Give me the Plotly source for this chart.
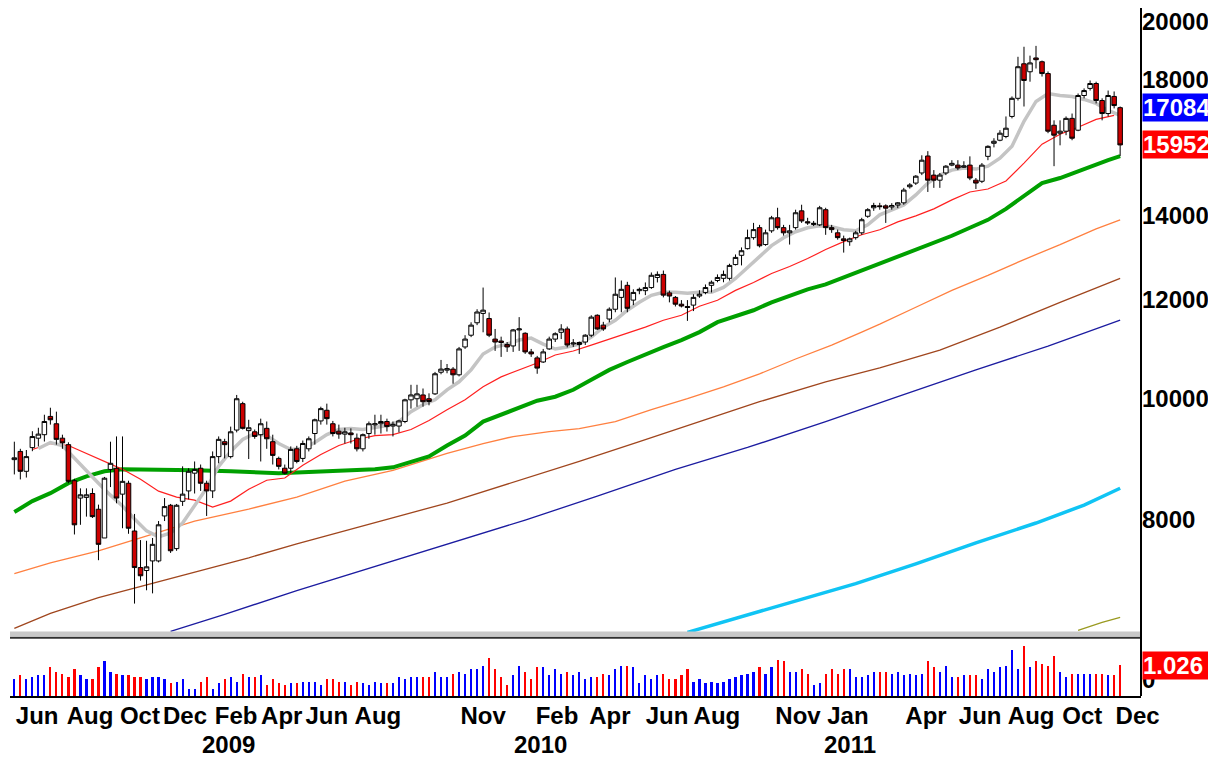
import math
import plotly.graph_objects as go

# weekly bars, oldest first (bar 0 = late May 2008, last bar = early Dec 2011)
opens = [
    8940, 9076, 8750, 9140, 9300, 9360, 9680, 9550, 9300, 9190,
    8600, 8330, 8340, 8400, 8160, 7740, 8780, 8800, 8390, 8560,
    7840, 7330, 7290, 7420, 7420, 8060, 8220, 7590, 8280, 8440,
    8720, 8800, 8560, 8440, 8990, 9240, 8990, 9440, 9910, 9430,
    9410, 9360, 9470, 9240, 8960, 8800, 8800, 9120, 8960, 9120,
    9380, 9600, 9790, 9550, 9420, 9370, 9390, 9300, 9120, 9380,
    9530, 9550, 9590, 9510, 9510, 9590, 9980, 10000, 10070, 10000,
    10090, 10500, 10540, 10560, 10450, 11000, 11240, 11500, 11700, 11590,
    11160, 11120, 11050, 11020, 11350, 11280, 10900, 10780, 10700, 10960,
    11160, 11300, 11370, 11060, 11050, 11100, 11240, 11660, 11450, 11580,
    11790, 12050, 12320, 11990, 12200, 12200, 12270, 12500, 12570, 12150,
    12050, 11900, 11850, 11880, 12080, 12160, 12320, 12430, 12480, 12480,
    12800, 13020, 13180, 13450, 13700, 13280, 13620, 13950, 13700, 13570,
    13700, 14130, 13850, 13780, 13770, 14160, 13700, 13570, 13420, 13350,
    13450, 13570, 13990, 14210, 14260, 14260, 14230, 14280, 14340, 14770,
    14870, 15150, 15630, 15090, 14950, 15150, 15370, 15370, 15310, 15370,
    14950, 14920, 15620, 16000, 16090, 16200, 16810, 17380, 18520, 18250,
    18720, 18590, 18190, 16540, 16300, 16360, 16750, 16390, 17470, 17700,
    17860, 17310, 16900, 17440, 17084]
highs = [
    9240, 9120, 9100, 9420, 9480, 9710, 9836, 9765, 9360, 9230,
    8630, 8480, 8480, 8480, 8230, 8660, 9240, 9330, 9330, 8600,
    8090, 7710, 7700, 7740, 7985, 8330, 8240, 8240, 8830, 8800,
    8910, 8860, 8600, 9076, 9330, 9290, 9500, 10070, 9945, 9620,
    9450, 9640, 9590, 9360, 8990, 8860, 9160, 9170, 9260, 9330,
    9640, 9855, 9910, 9600, 9535, 9480, 9470, 9380, 9380, 9590,
    9710, 9710, 9640, 9590, 9620, 10000, 10260, 10260, 10190, 10100,
    10506, 10740, 10660, 10600, 11000, 11240, 11510, 11790, 12270, 11720,
    11370, 11210, 11100, 11370, 11620, 11300, 10960, 10820, 10960, 11210,
    11300, 11470, 11420, 11160, 11110, 11260, 11660, 11680, 11520, 11830,
    12500, 12430, 12400, 12230, 12270, 12386, 12615, 12640, 12660, 12200,
    12080, 11990, 11990, 12120, 12210, 12340, 12430, 12570, 12660, 12820,
    13040, 13210, 13650, 13820, 13770, 13650, 14000, 14210, 13770, 13770,
    14160, 14290, 13950, 13870, 14260, 14210, 13770, 13650, 13500, 13450,
    13620, 13950, 14200, 14340, 14340, 14300, 14330, 14360, 14740, 14870,
    15090, 15650, 15770, 15230, 15150, 15370, 15510, 15510, 15480, 15620,
    15010, 15430, 15940, 16150, 16390, 16810, 17440, 18760, 19110, 18800,
    19140, 18630, 18260, 16690, 16690, 16810, 16900, 17535, 17700, 17960,
    17920, 17380, 17630, 17600, 17120]
lows = [
    8700, 8620, 8650, 9080, 9160, 9243, 9535, 9190, 9120, 8560,
    7790, 7930, 8050, 8030, 7430, 7740, 8500, 8250, 7880, 7800,
    6860, 7156, 7030, 6990, 7400, 7985, 7530, 7560, 8210, 8310,
    8400, 8440, 8060, 8330, 8880, 8960, 8960, 9400, 9450, 8950,
    9290, 8910, 9120, 8860, 8780, 8700, 8720, 8880, 8900, 9076,
    9190, 9535, 9535, 9330, 9290, 9210, 9210, 9076, 9076, 9290,
    9360, 9380, 9414, 9330, 9400, 9560, 9820, 9855, 9855, 9880,
    10070, 10460, 10480, 10280, 10420, 10960, 11200, 11450, 11300, 11200,
    10920, 10800, 10900, 10900, 10920, 10860, 10800, 10470, 10680, 10940,
    11100, 11160, 10990, 11000, 10860, 11040, 11200, 11350, 11330, 11510,
    11725, 11725, 11725, 11880, 12120, 12100, 12240, 12386, 12050, 11940,
    11850, 11830, 11540, 11750, 12040, 12120, 12160, 12390, 12390, 12430,
    12780, 12780, 13160, 13400, 13210, 13250, 13570, 13650, 13500, 13280,
    13650, 13820, 13770, 13740, 13740, 13520, 13570, 13400, 13085, 13250,
    13400, 13520, 13950, 14130, 14160, 13820, 14160, 14200, 14290, 14720,
    14820, 15090, 14630, 14740, 14740, 15090, 15340, 15230, 15290, 14950,
    14710, 14870, 15510, 15880, 16060, 16150, 16750, 17310, 17120, 17920,
    18360, 18090, 16300, 15340, 15940, 16240, 16090, 16360, 17380, 17630,
    17217, 16690, 16810, 17060, 15630]
closes = [
    8970, 8750, 8990, 9328, 9370, 9590, 9620, 9280, 9220, 8590,
    7930, 8380, 8380, 8050, 7650, 8640, 8880, 8330, 8590, 7880,
    7330, 7220, 7340, 7650, 7930, 8200, 7560, 8220, 8390, 8750,
    8780, 8560, 8440, 8990, 9280, 9190, 9410, 10000, 9470, 9480,
    9330, 9550, 9290, 9010, 8830, 8720, 9110, 8910, 9210, 9290,
    9620, 9820, 9640, 9380, 9370, 9410, 9360, 9120, 9360, 9550,
    9550, 9590, 9500, 9540, 9600, 9980, 10070, 10090, 9945, 9950,
    10470, 10560, 10570, 10450, 10960, 11160, 11450, 11730, 11770, 11240,
    11100, 11090, 11000, 11350, 11370, 10900, 10860, 10580, 10900, 11160,
    11270, 11370, 11040, 11080, 11090, 11240, 11620, 11370, 11370, 11790,
    12120, 12230, 11810, 12160, 12230, 12270, 12550, 12570, 12100, 12080,
    11900, 11860, 11830, 12050, 12120, 12270, 12390, 12500, 12570, 12780,
    12970, 13130, 13450, 13650, 13250, 13570, 13950, 13700, 13570, 13620,
    14080, 13870, 13820, 13810, 14210, 13700, 13650, 13450, 13380, 13420,
    13570, 13900, 14160, 14270, 14240, 14200, 14270, 14340, 14680, 14820,
    15060, 15510, 14950, 14950, 15090, 15340, 15420, 15290, 15350, 15010,
    14870, 15370, 15910, 16060, 16300, 16450, 17380, 18420, 17960, 18550,
    18660, 18190, 16360, 16240, 16360, 16750, 16150, 17470, 17630, 17860,
    17310, 16900, 17470, 17150, 15952]
volume = [
    0.55, 0.69, 0.55, 0.62, 0.69, 0.69, 0.96, 0.82, 0.75, 0.62,
    0.89, 0.69, 0.55, 0.55, 0.96, 1.16, 0.82, 0.75, 0.69, 0.69,
    0.62, 0.62, 0.55, 0.62, 0.62, 0.55, 0.42, 0.48, 0.55, 0.21,
    0.21, 0.48, 0.62, 0.21, 0.42, 0.55, 0.62, 0.48, 0.75, 0.62,
    0.62, 0.69, 0.35, 0.55, 0.42, 0.35, 0.42, 0.42, 0.48, 0.48,
    0.48, 0.35, 0.55, 0.55, 0.48, 0.48, 0.35, 0.48, 0.42, 0.35,
    0.48, 0.42, 0.42, 0.42, 0.62, 0.55, 0.62, 0.62, 0.62, 0.62,
    0.82, 0.62, 0.62, 0.75, 0.82, 0.75, 0.89, 0.89, 1.02, 1.29,
    0.89, 0.62, 0.35, 0.69, 1.02, 0.82, 0.55, 0.96, 0.96, 0.69,
    0.89, 0.75, 0.82, 0.69, 0.82, 0.55, 0.62, 0.62, 0.75, 0.69,
    0.89, 1.02, 1.02, 0.96, 0.42, 0.69, 0.55, 0.69, 0.75, 0.55,
    0.55, 0.69, 0.89, 0.48, 0.55, 0.42, 0.48, 0.42, 0.48, 0.55,
    0.62, 0.69, 0.75, 0.82, 0.96, 0.75, 0.96, 1.22, 1.16, 0.82,
    0.82, 0.89, 0.75, 0.35, 0.42, 0.75, 0.89, 0.75, 0.89, 0.89,
    0.62, 0.62, 0.69, 0.82, 0.82, 0.82, 0.75, 0.82, 0.69, 0.75,
    0.69, 0.75, 1.16, 0.96, 0.82, 1.02, 0.62, 0.62, 0.69, 0.69,
    0.69, 0.55, 0.89, 0.82, 0.96, 1.02, 1.56, 0.89, 1.70, 0.96,
    1.16, 1.09, 1.02, 1.36, 0.82, 0.62, 0.75, 0.75, 0.75, 0.75,
    0.75, 0.75, 0.69, 0.69, 1.026]

# moving averages at sample bars
gray_bars = list(range(4, 185, 2))
gray_ma = [
    9125, 9226, 9176, 8961, 8750, 8561, 8375, 8208, 8015, 7841,
    7755, 7812, 7956, 8208, 8483, 8831, 9076, 9277, 9380, 9345,
    9209, 9109, 9125, 9226, 9362, 9449, 9466, 9449, 9483, 9518,
    9588, 9765, 9891, 9981, 10166, 10316, 10545, 10858, 10998, 11058,
    11140, 11181, 11058, 10958, 10998, 11058, 11201, 11408, 11554, 11768,
    11941, 12095, 12162, 12162, 12140, 12162, 12162, 12274, 12477, 12731,
    13013, 13254, 13449, 13597, 13697, 13746, 13721, 13646, 13621, 13772,
    14026, 14156, 14286, 14549, 14872, 15092, 15230, 15286, 15258, 15342,
    15569, 15914, 16659, 17280, 17535, 17471, 17439, 17344, 17217, 16998,
    16843]
red_bars = list(range(3, 184, 3))
red_ma = [
    9109, 9209, 9176, 9043, 8912, 8782, 8624, 8436, 8344, 8298,
    8193, 8283, 8467, 8608, 8643, 8847, 9026, 9176, 9277, 9345,
    9362, 9449, 9606, 9801, 9981, 10222, 10411, 10545, 10680, 10838,
    10918, 11038, 11160, 11283, 11408, 11554, 11661, 11854, 11985, 12207,
    12386, 12592, 12754, 12942, 13158, 13351, 13522, 13646, 13847, 14000,
    14182, 14417, 14629, 14709, 14927, 15427, 15973, 16267, 16477, 16721,
    16843]
green_bars = [0, 3, 6, 9, 12, 15, 18, 24, 30, 36, 40, 44, 48, 52, 56, 60, 63, 66, 69,
              72, 75, 78, 81, 84, 87, 90, 93, 96, 99, 102, 105, 108, 111, 114, 117,
              120, 123, 126, 129, 132, 135, 138, 141, 144, 147, 150, 153, 156, 159,
              162, 165, 168, 171, 174, 177, 180, 182, 184]
green_ma = [
    8118, 8283, 8405, 8561, 8670, 8750, 8782, 8782, 8766, 8750, 8734, 8718, 8734,
    8750, 8766, 8782, 8814, 8896, 8994, 9176, 9345, 9588, 9711, 9855, 9963,
    10037, 10166, 10354, 10545, 10700, 10858, 10998, 11140, 11304, 11512,
    11640, 11768, 11941, 12095, 12229, 12341, 12500, 12661, 12801, 12966,
    13133, 13327, 13497, 13697, 13898, 14182, 14522, 14872, 15009, 15203,
    15371, 15512, 15626]
orange_bars = [0, 6, 14, 22, 30, 39, 47, 55, 63, 72, 78, 83, 89, 94, 100, 106, 112,
               118, 124, 130, 136, 141, 144, 150, 156, 162, 168, 174, 180, 184]
orange_ma = [
    7248, 7395, 7559, 7769, 7985, 8163, 8344, 8592, 8766, 9043, 9209, 9328,
    9414, 9466, 9588, 9801, 10000, 10222, 10468, 10759, 11038, 11304, 11470,
    11833, 12207, 12546, 12919, 13278, 13671, 13898]
brown_bars = [0, 6, 14, 22, 31, 39, 47, 56, 64, 72, 83, 94, 104, 114, 124, 135, 144,
              154, 164, 174, 184]
brown_ma = [
    6553, 6737, 6937, 7104, 7288, 7463, 7656, 7870, 8059, 8253, 8576, 8912,
    9243, 9588, 9945, 10316, 10583, 10938, 11408, 11941, 12477]
navy_bars = [26, 35, 47, 60, 72, 85, 97, 110, 122, 135, 147, 160, 172, 184]
navy_ma = [6518, 6725, 7026, 7342, 7656, 7999, 8359, 8782, 9142, 9588, 10037,
           10545, 11018, 11554]
cyan_bars = [112, 120, 130, 140, 150, 160, 170, 178, 184]
cyan_ma = [6506, 6674, 6886, 7117, 7381, 7670, 7956, 8223, 8482]
olive_bars = [177, 181, 184]
olive_ma = [6530, 6626, 6687]

levels = [15625, 14208]
price_ticks = [8000, 10000, 12000, 14000, 18000, 20000]

month_pos = [3.8, 12.6, 20.9, 28.4, 36.9, 44.5, 52.0, 60.5, 78.0, 90.3, 99.1,
             108.6, 116.9, 130.4, 138.7, 151.7, 160.7, 169.2, 177.7, 186.9]
month_text = ["Jun", "Aug", "Oct", "Dec", "Feb", "Apr", "Jun", "Aug", "Nov", "Feb",
              "Apr", "Jun", "Aug", "Nov", "Jan", "Apr", "Jun", "Aug", "Oct", "Dec"]
year_pos = [35.6, 87.5, 139.1]
year_text = ["2009", "2010", "2011"]

FONT = "Liberation Sans, Arial, sans-serif"
bars = list(range(len(closes)))

# the page body adds an 8px margin, so the figure is laid out 8px smaller
FIG_W, FIG_H = 1208, 750
PLOT_H = 688                      # window rows 8..696


def paper_y(win_y):
    return (696 - win_y) / PLOT_H


fig = go.Figure()

ma_lines = [
    (navy_bars, navy_ma, "#1c1ca0", 1.3),
    (brown_bars, brown_ma, "#a0461e", 1.3),
    (orange_bars, orange_ma, "#ff8040", 1.3),
    (cyan_bars, cyan_ma, "#10c4f4", 3.5),
    (olive_bars, olive_ma, "#9a9a20", 1.3),
    (green_bars, green_ma, "#00a000", 4),
    (red_bars, red_ma, "#ff2020", 1.2),
    (gray_bars, gray_ma, "#c4c4c4", 3.5),
]
for xs, ys, color, width in ma_lines:
    fig.add_trace(go.Scatter(x=xs, y=ys, mode="lines", line=dict(color=color, width=width),
                             xaxis="x", yaxis="y", hoverinfo="skip"))

# candles on an overlay axis so they sit above the averages
fig.add_trace(go.Candlestick(
    x=bars, open=opens, high=highs, low=lows, close=closes,
    xaxis="x", yaxis="y3", whiskerwidth=0,
    increasing=dict(line=dict(color="black", width=1), fillcolor="white"),
    decreasing=dict(line=dict(color="black", width=1), fillcolor="#cc0000"),
))

vol_colors = ["#0000ff" if c >= o else "#ff0000" for o, c in zip(opens, closes)]
fig.add_trace(go.Bar(x=bars, y=volume, xaxis="x", yaxis="y2", width=0.36,
                     marker=dict(color=vol_colors, line=dict(width=0))))

# log scale: 546.7 px per e-fold, 10000 sits at window row 397
log_hi = 4 + (397 - 8) / 1258.8
log_lo = 4 + (397 - 632) / 1258.8
tick_font = dict(family=FONT, size=24, color="black", weight="bold")

shapes = []
for lvl in levels:
    shapes.append(dict(type="line", xref="paper", x0=0, x1=1, yref="y",
                       y0=math.log10(lvl), y1=math.log10(lvl),
                       line=dict(color="#0000ff", width=1.3), layer="above"))
# panel separator and right frame
shapes.append(dict(type="rect", xref="paper", x0=0, x1=1, yref="paper",
                   y0=paper_y(636), y1=paper_y(631),
                   fillcolor="#c8c8c8", line=dict(width=0)))
shapes.append(dict(type="line", xref="paper", x0=0, x1=1, yref="paper",
                   y0=paper_y(637.5), y1=paper_y(637.5),
                   line=dict(color="#303030", width=2)))
shapes.append(dict(type="line", xref="paper", x0=1, x1=1, yref="paper", y0=0, y1=1.02,
                   line=dict(color="black", width=2)))

box_font = dict(family=FONT, size=24, color="white", weight="bold")
annotations = [
    dict(x=1, xref="paper", xanchor="left", xshift=1, y=math.log10(opens[-1]), yref="y",
         text=str(opens[-1]), showarrow=False, font=box_font, bgcolor="#0000ff",
         borderpad=0, width=80, align="left"),
    dict(x=1, xref="paper", xanchor="left", xshift=1, y=math.log10(closes[-1]), yref="y",
         text=str(closes[-1]), showarrow=False, font=box_font, bgcolor="#ff0000",
         borderpad=0, width=80, align="left"),
    dict(x=1, xref="paper", xanchor="left", xshift=1, y=volume[-1], yref="y2",
         text=f"{volume[-1]:.3f}", showarrow=False, font=box_font, bgcolor="#ff0000",
         borderpad=0, width=80, align="left"),
]
for pos, txt in zip(year_pos, year_text):
    annotations.append(dict(x=pos, xref="x", y=0, yref="paper", yanchor="middle",
                            yshift=-48, text=txt, showarrow=False, font=tick_font,
                            borderpad=0))

fig.update_layout(
    width=FIG_W, height=FIG_H,
    margin=dict(l=2, r=75, t=0, b=62),
    paper_bgcolor="white", plot_bgcolor="white",
    showlegend=False,
    boxgap=0.25, boxgroupgap=0,
    xaxis=dict(range=[-0.72, 187.47], anchor="y2", showgrid=False, zeroline=False,
               showline=True, linecolor="black", linewidth=2, ticks="",
               tickvals=month_pos, ticktext=month_text, tickfont=tick_font,
               rangeslider=dict(visible=False), ticklabelstandoff=-3),
    yaxis=dict(domain=[paper_y(632), 1], type="log", range=[log_lo, log_hi], side="right",
               anchor="x", showgrid=False, zeroline=False, ticks="",
               tickvals=price_ticks, ticktext=[str(v) for v in price_ticks],
               tickfont=tick_font, ticklabelstandoff=0, ticklabeloverflow="allow"),
    yaxis3=dict(overlaying="y", type="log", range=[log_lo, log_hi], anchor="x",
                visible=False),
    yaxis2=dict(domain=[0, paper_y(638)], range=[0, 1.9575], side="right", anchor="x",
                showgrid=False, zeroline=False, ticks="", tickvals=[0], ticktext=["0"],
                ticklabelposition="outside top", tickfont=tick_font, ticklabelstandoff=0),
    shapes=shapes,
    annotations=annotations,
    bargap=0,
)

fig.write_html("out.html")
